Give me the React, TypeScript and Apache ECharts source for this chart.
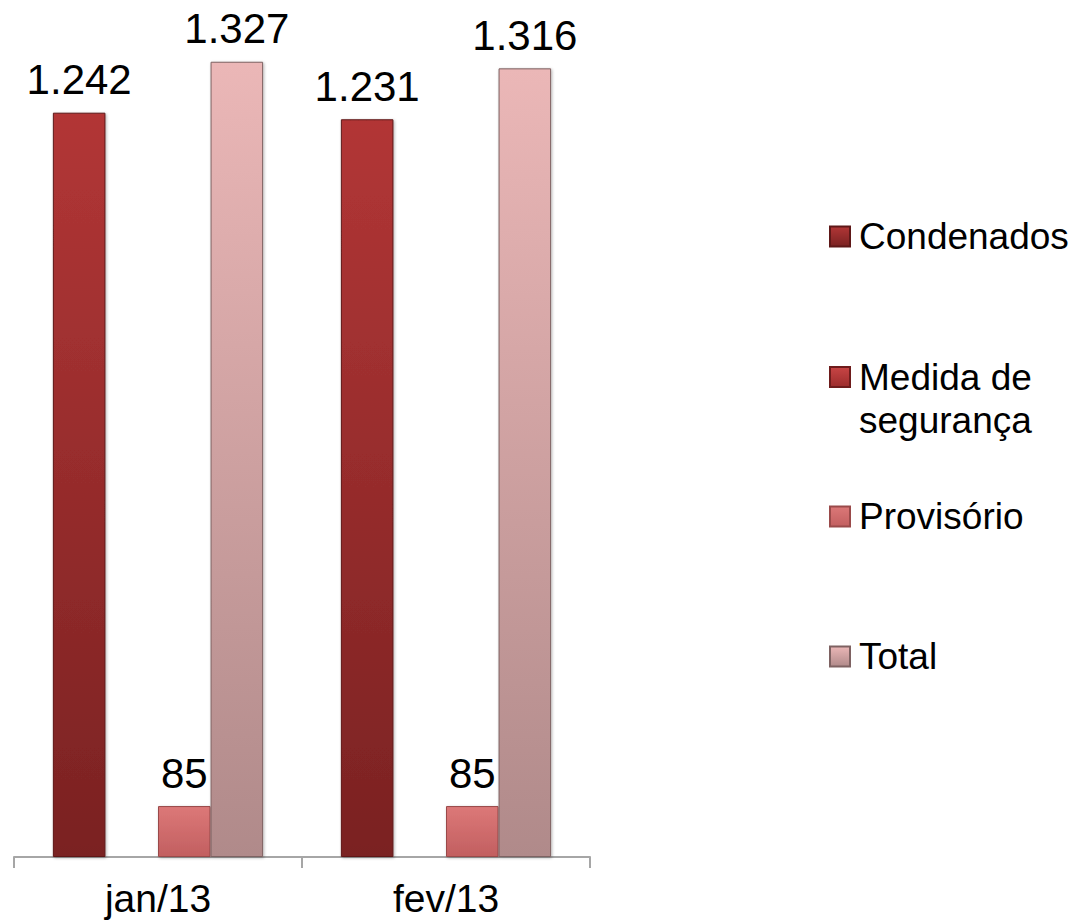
import React, { useEffect, useRef } from "react";
import * as echarts from "echarts";

const categories = ["jan/13", "fev/13"];
const seriesNames = ["Condenados", "Medida de segurança", "Provisório", "Total"];
const condenados = [1242, 1231];
const medidaSeguranca: (number | null)[] = [null, null];
const provisorio = [85, 85];
const total = [1327, 1316];
const yMax = 1400;

const FONT = "'Liberation Sans', Arial, sans-serif";

function fmt(v: number): string {
  return String(v).replace(/\B(?=(\d{3})+(?!\d))/g, ".");
}

function grad(top: string, bottom: string) {
  return new echarts.graphic.LinearGradient(0, 0, 0, 1, [
    { offset: 0, color: top },
    { offset: 1, color: bottom },
  ]);
}

const colors = [
  { top: "#b23636", bottom: "#7a2222", border: "#5e1818" },
  { top: "#c84545", bottom: "#9c2c2c", border: "#6e1c1c" },
  { top: "#dc7878", bottom: "#c25f60", border: "#9a4a4a" },
  { top: "#ebb7b7", bottom: "#b08a8a", border: "#7e6262" },
];

export default function App() {
  const ref = useRef<HTMLDivElement>(null);

  useEffect(() => {
    if (!ref.current) return;
    const chart = echarts.init(ref.current, null, { renderer: "svg" });
    const values = [condenados, medidaSeguranca, provisorio, total];

    const label = {
      show: true,
      position: "top" as const,
      distance: 12,
      fontFamily: FONT,
      fontSize: 42,
      color: "#000",
      formatter: (p: any) => (p.value == null ? "" : fmt(p.value)),
    };

    const legendCenters = [237, 377, 517, 657];
    const legends = seriesNames.map((name, i) => {
      const multi = name === "Medida de segurança";
      return {
        data: [name],
        orient: "vertical" as const,
        left: 829,
        top: multi ? legendCenters[i] - 64.5 : legendCenters[i] - 19,
        padding: 0,
        itemWidth: 20,
        itemHeight: 20,
        icon: "rect",
        selectedMode: false,
        formatter: multi ? () => "\nMedida de\nsegurança" : undefined,
        textStyle: {
          fontFamily: FONT,
          fontSize: 37,
          color: "#000",
          lineHeight: multi ? 43 : undefined,
          padding: [0, 0, 0, 4],
        },
      };
    });

    chart.setOption({
      animation: false,
      backgroundColor: "#ffffff",
      grid: { left: 14, right: 495, top: 18, bottom: 67, containLabel: false },
      legend: legends,
      xAxis: {
        type: "category",
        data: categories,
        axisLine: { show: true, lineStyle: { color: "#a6a6a6", width: 2 } },
        axisTick: { show: true, length: 11, lineStyle: { color: "#a6a6a6", width: 2 } },
        axisLabel: { margin: 22, fontFamily: FONT, fontSize: 39, color: "#000" },
      },
      yAxis: {
        type: "value",
        min: 0,
        max: yMax,
        show: false,
        splitLine: { show: false },
      },
      series: seriesNames.map((name, i) => ({
        name,
        type: "bar",
        data: values[i],
        barGap: "0%",
        barCategoryGap: "27%",
        itemStyle: {
          color: grad(colors[i].top, colors[i].bottom),
          borderColor: colors[i].border,
          borderWidth: 1,
          shadowBlur: 3,
          shadowColor: "rgba(0,0,0,0.3)",
          shadowOffsetX: 1,
          shadowOffsetY: 1,
        },
        label,
      })),
    });

    return () => chart.dispose();
  }, []);

  return (
    <div
      ref={ref}
      style={{ position: "fixed", left: 0, top: 0, width: 1085, height: 924, background: "#fff" }}
    />
  );
}
